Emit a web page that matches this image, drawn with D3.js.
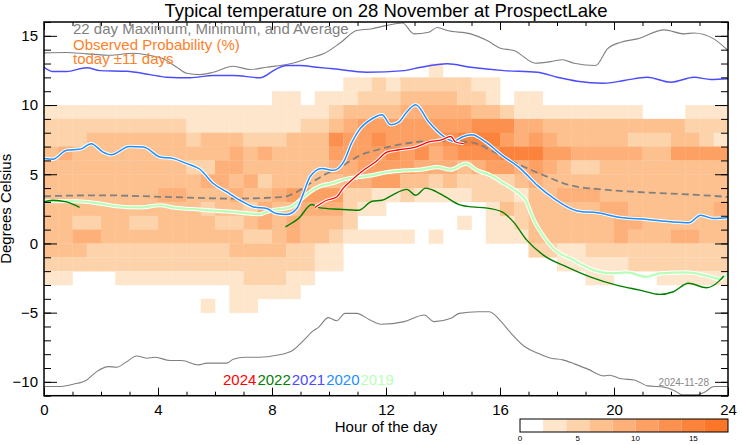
<!DOCTYPE html>
<html><head><meta charset="utf-8">
<script src="https://cdn.jsdelivr.net/npm/d3@7"></script>
<style>body{margin:0;background:#fff}svg{display:block}text{font-family:"Liberation Sans",Arial,Helvetica,sans-serif}</style>
</head><body><svg id="c" width="742" height="445"></svg>
<script>
// ---------- DATA ----------
const titleText = "Typical temperature on 28 November at ProspectLake";
const xTicks = [0, 4, 8, 12, 16, 20, 24];
const yTicks = [-10, -5, 0, 5, 10, 15];
// probability level per half-hour column (48), rows by bin lower edge (°C), level k => (2k..2k+2)%
const rowBins = [12, 11, 10, 9, 8, 7, 6, 5, 4, 3, 2, 1, 0, -1, -2, -3, -4, -5];
const probRows = [
  "00000000"+"00000000"+"00000000"+"00010000"+"00000000"+"00000000",
  "00000000"+"00000000"+"00000112"+"12222211"+"00000000"+"00000000",
  "00000000"+"00000000"+"11011122"+"23333221"+"01100000"+"00000000",
  "11111111"+"11111111"+"11112333"+"34444433"+"21111111"+"11000111",
  "22222222"+"22111111"+"11223455"+"55555566"+"64433333"+"33333222",
  "22233333"+"33233322"+"23336556"+"55556777"+"54543333"+"32223321",
  "34333333"+"33333434"+"33335555"+"65645666"+"77755444"+"44335555",
  "33333333"+"33224433"+"33334455"+"55444345"+"54543223"+"33333333",
  "33333333"+"33344342"+"33333445"+"53323222"+"23433333"+"33333333",
  "33333333"+"44333433"+"45555221"+"12111122"+"21334443"+"33333333",
  "33333333"+"33323324"+"33444211"+"00000001"+"32333334"+"43333334",
  "33223322"+"33332234"+"34333200"+"00000101"+"12333333"+"44333333",
  "33443333"+"33333322"+"34332111"+"11010001"+"11333333"+"43334433",
  "33322222"+"22222333"+"32211000"+"00000000"+"00221122"+"22222222",
  "22222222"+"22222222"+"22211000"+"00000000"+"00001111"+"12222222",
  "11000111"+"11111122"+"21100000"+"00000000"+"00000011"+"00011111",
  "00000000"+"00000111"+"11000000"+"00000000"+"00000000"+"00000000",
  "00000000"+"00010110"+"00000000"+"00000000"+"00000000"+"00000000"
];
const levelColors = ["#ffffff","#fee6cd","#fdd3ab","#fdc08f","#fdb079","#fca064","#fc914f","#fc833c","#fc7629"];
const colorbarTicks = [0, 5, 10, 15];

const maxLine = [[0,13.77],[0.79,13.8],[1.5,13.7],[2.3,13.6],[3.14,13.74],[3.72,13.58],[4.19,13.34],[4.66,12.73],[5.01,12.3],[5.47,12.2],[5.94,12.37],[6.64,12.8],[7.23,12.57],[7.81,12.73],[8.63,12.98],[9.33,13.41],[9.8,13.7],[10.4,14.5],[10.97,15.38],[11.47,15.5],[12.0,15.74],[12.58,15.93],[12.98,15.14],[13.5,15.26],[13.8,15.6],[14.15,15.38],[14.97,15.14],[15.55,14.66],[16.02,14.1],[16.49,13.94],[17.25,13.02],[17.78,13.14],[18.19,13.27],[18.6,13.02],[19.36,12.86],[19.77,14.06],[20.24,14.54],[20.82,14.78],[21.76,15.43],[22.46,15.14],[22.81,15.21],[23.5,14.78],[24,13.94]];
const minLine = [[0,-10.34],[0.5,-10.34],[1.03,-10.17],[1.5,-9.86],[1.85,-9.26],[2.26,-8.9],[2.55,-8.94],[2.9,-8.54],[3.25,-8.13],[3.6,-8.29],[3.9,-8.22],[4.42,-8.46],[4.83,-8.46],[5.42,-8.77],[5.71,-8.65],[6.41,-8.65],[6.64,-8.36],[7.05,-8.22],[7.58,-8.22],[8.16,-8.08],[8.69,-7.77],[9.1,-7.02],[9.45,-6.3],[9.63,-6.06],[9.98,-5.36],[10.27,-5.58],[10.56,-5.05],[10.97,-5.05],[11.44,-5.53],[11.82,-5.84],[12.64,-5.65],[13.34,-5.17],[13.69,-5.65],[14.28,-5.41],[14.57,-5.05],[15.22,-4.93],[15.63,-4.93],[16.04,-5.65],[16.39,-6.49],[16.86,-7.45],[17.33,-7.93],[17.79,-8.29],[18.2,-8.41],[18.61,-8.7],[19.08,-9.08],[19.66,-9.57],[19.84,-9.52],[20.25,-9.78],[20.71,-9.86],[21.18,-10.29],[21.76,-10.38],[22.11,-10.62],[22.4,-10.94],[22.87,-10.94],[23.16,-10.77],[23.51,-10.34],[24,-10.34]];
const avgLine = [[0,3.41],[1.97,3.48],[4.3,3.36],[6.64,3.24],[8.4,3.36],[8.87,3.72],[9.33,4.33],[9.92,5.05],[10.5,5.65],[11.09,6.37],[11.5,6.65],[12.65,7.21],[13.8,7.42],[14.97,7.31],[15.9,6.49],[16.72,5.65],[17.54,4.92],[18.47,4.2],[19.64,3.89],[20.81,3.72],[21.98,3.6],[23.15,3.48],[24,3.36]];

const years = ["2024","2022","2021","2020","2019"];
const yearColors = ["#ff0000","#008000","#4b4bff","#1e8fff","#b8ffb8"];
const y2021 = [[0,12.73],[0.31,12.42],[0.79,12.42],[1.5,12.69],[1.97,12.49],[2.9,12.44],[3.72,12.2],[4.3,12.01],[5.12,11.97],[5.94,12.13],[6.64,12.13],[7.58,11.97],[8.16,12.62],[8.52,12.86],[8.98,12.86],[9.57,12.73],[10.15,12.62],[11.32,12.37],[12.64,12.49],[13.22,12.73],[14.15,12.98],[14.97,12.73],[16.14,12.49],[17.31,12.37],[18.01,12.01],[18.71,11.72],[19.64,11.58],[20.35,11.77],[21.17,12.01],[21.99,11.65],[22.81,12.01],[23.4,11.85],[24,11.9]];
const y2020 = [[0,6.13],[0.31,6.08],[0.79,6.73],[1.25,6.8],[1.66,7.21],[2.07,6.6],[2.36,6.41],[3.0,7.01],[3.49,6.97],[4.07,6.25],[4.54,6.13],[5.01,5.77],[5.47,5.36],[5.94,4.33],[6.41,3.72],[6.88,3.12],[7.35,2.64],[7.81,2.52],[8.16,2.16],[8.52,2.09],[8.87,2.52],[9.1,3.6],[9.33,4.8],[9.75,5.41],[10.15,5.28],[10.51,5.88],[10.81,7.33],[11.05,8.17],[11.51,9.01],[11.86,9.3],[12.16,8.58],[12.45,8.77],[12.68,9.37],[13.04,10.02],[13.5,8.77],[13.97,7.81],[14.38,7.38],[14.67,7.69],[15.02,7.86],[15.49,7.33],[16.07,6.37],[16.72,5.41],[17.31,4.2],[17.9,3.24],[18.71,2.35],[19.42,2.21],[20.24,1.87],[21.17,1.73],[21.99,1.56],[22.63,1.49],[23.04,2.04],[23.5,1.8],[24,1.87]];
const y2019 = [[0,3.05],[1.14,3.05],[1.97,2.88],[2.55,2.69],[3.37,2.6],[4.07,2.76],[4.54,2.6],[5.47,2.45],[6.64,2.28],[7.58,2.11],[7.81,2.28],[8.16,2.45],[8.63,2.6],[8.98,3.12],[9.33,3.72],[9.68,4.13],[10.15,4.37],[10.62,4.68],[11.09,4.8],[11.47,4.92],[12.06,5.16],[12.64,5.28],[13.22,5.33],[13.8,5.52],[14.27,5.33],[14.8,5.77],[15.2,5.28],[15.67,4.92],[16.14,4.33],[16.6,3.72],[16.9,3.12],[17.19,1.68],[17.54,0.48],[17.87,-0.36],[18.57,-1.2],[19.39,-2.0],[19.97,-2.16],[20.44,-2.09],[21.14,-2.41],[21.61,-2.16],[22.55,-2.09],[23.25,-2.33],[23.72,-2.57],[24,-2.16]];
const y2022a = [[0,3.0],[0.31,3.12],[0.79,3.0],[1.25,2.6]];
const y2022b = [[8.47,1.2],[8.93,1.8],[9.4,2.81],[9.69,2.57],[10.34,2.47],[11.04,2.4],[11.51,3.05],[11.86,3.12],[12.21,3.48],[12.73,3.91],[13.04,3.48],[13.39,4.0],[13.74,3.77],[14.09,3.36],[14.56,2.81],[15.02,2.64],[15.49,2.57],[16.07,2.28],[16.47,1.56],[16.94,0.24],[17.52,-0.84],[18.34,-1.69],[19.16,-2.41],[20.09,-3.01],[20.91,-3.37],[21.61,-3.68],[22.08,-3.49],[22.61,-2.88],[23.25,-3.2],[23.72,-2.65],[23.85,-2.35]];
const y2024 = [[9.51,2.6],[9.92,3.12],[10.27,3.36],[10.5,4.0],[10.81,4.6],[11.22,5.3],[11.63,5.88],[12.03,6.6],[12.45,6.77],[13.04,6.96],[13.5,7.33],[13.97,7.5],[14.27,7.74],[14.44,7.33],[14.73,7.21]];

// ---------- DRAW ----------
const svg = d3.select("#c");
svg.append("rect").attr("width",742).attr("height",445).attr("fill","#fff");
const L=44, R=728, T=22, B=395.7;
const x = d3.scaleLinear().domain([0,24]).range([L,R]);
const y = d3.scaleLinear().domain([-11,16]).range([B,T]);
const color = d3.scaleOrdinal().domain(d3.range(9)).range(levelColors);

// heatmap
const cells = [];
probRows.forEach((s,ri)=>{ for(let c=0;c<s.length;c++){ const k=+s[c]; if(k>0) cells.push({h:c*0.5, t:rowBins[ri], k}); }});
svg.append("g").selectAll("rect").data(cells).join("rect")
  .attr("x",d=>x(d.h)).attr("y",d=>y(d.t+1))
  .attr("width",d=>x(d.h+0.5)-x(d.h)+0.3).attr("height",d=>y(d.t)-y(d.t+1)+0.3)
  .attr("fill",d=>color(d.k));

const line = d3.line().x(d=>x(d[0])).y(d=>y(d[1])).curve(d3.curveMonotoneX);
const plot = svg.append("g");
plot.append("path").attr("d",line(maxLine)).attr("fill","none").attr("stroke","#808080").attr("stroke-width",1.1);
plot.append("path").attr("d",line(minLine)).attr("fill","none").attr("stroke","#808080").attr("stroke-width",1.1);
plot.append("path").attr("d",line(avgLine)).attr("fill","none").attr("stroke","#808080").attr("stroke-width",1.8).attr("stroke-dasharray","7,4");

function yearLine(data,col,w,halo){
  if(halo) plot.append("path").attr("d",line(data)).attr("fill","none").attr("stroke","#fff").attr("stroke-width",w+2).attr("stroke-linejoin","round");
  plot.append("path").attr("d",line(data)).attr("fill","none").attr("stroke",col).attr("stroke-width",w).attr("stroke-linejoin","round");
}
yearLine(y2021, yearColors[2], 1.4, false);
yearLine(y2019, yearColors[4], 2.2, true);
yearLine(y2022a, yearColors[1], 1.4, false);
yearLine(y2022b, yearColors[1], 1.4, false);
yearLine(y2020, yearColors[3], 1.5, true);
yearLine(y2024, yearColors[0], 1.3, true);

// axes
const fs = "15px";
function styleAxis(g){ g.select(".domain").remove(); g.selectAll("line").attr("stroke","#000").attr("stroke-width",1); g.selectAll("text").style("font-size",fs).attr("fill","#000"); }
svg.append("g").attr("transform",`translate(${L},0)`).call(d3.axisLeft(y).tickValues(yTicks).tickSize(-13).tickPadding(6)).call(styleAxis);
svg.append("g").attr("transform",`translate(${L},0)`).call(d3.axisLeft(y).tickValues(d3.range(-11,17)).tickSize(-7).tickFormat("")).call(styleAxis);
svg.append("g").attr("transform",`translate(${R},0)`).call(d3.axisRight(y).tickValues(yTicks).tickSize(-13).tickFormat("")).call(styleAxis);
svg.append("g").attr("transform",`translate(${R},0)`).call(d3.axisRight(y).tickValues(d3.range(-11,17)).tickSize(-7).tickFormat("")).call(styleAxis);
svg.append("g").attr("transform",`translate(0,${B})`).call(d3.axisBottom(x).tickValues(xTicks).tickSize(-8).tickPadding(9)).call(styleAxis);
svg.append("g").attr("transform",`translate(0,${B})`).call(d3.axisBottom(x).tickValues(d3.range(0,25)).tickSize(-4).tickFormat("")).call(styleAxis);
svg.append("g").attr("transform",`translate(0,${T})`).call(d3.axisTop(x).tickValues(xTicks).tickSize(-8).tickFormat("")).call(styleAxis);
svg.append("g").attr("transform",`translate(0,${T})`).call(d3.axisTop(x).tickValues(d3.range(0,25)).tickSize(-4).tickFormat("")).call(styleAxis);
svg.append("rect").attr("x",L).attr("y",T).attr("width",R-L).attr("height",B-T).attr("fill","none").attr("stroke","#000").attr("stroke-width",1.5);

// texts
svg.append("text").attr("x",(L+R)/2).attr("y",17).attr("text-anchor","middle").style("font-size","18.5px").text(titleText);
svg.append("text").attr("x",73).attr("y",34).style("font-size","15px").attr("fill","#808080").text("22 day Maximum, Minimum, and Average");
svg.append("text").attr("x",73).attr("y",50).style("font-size","15px").attr("fill","#ff7f2a").text("Observed Probability (%)");
svg.append("text").attr("x",73).attr("y",63.5).style("font-size","15px").attr("fill","#ff7f2a").text("today \u00b111 days");
svg.append("text").attr("x",(L+R)/2).attr("y",432).attr("text-anchor","middle").style("font-size","15px").text("Hour of the day");
svg.append("text").attr("transform",`translate(11,${(T+B)/2}) rotate(-90)`).attr("text-anchor","middle").style("font-size","15px").text("Degrees Celsius");
svg.append("text").attr("x",709).attr("y",386).attr("text-anchor","end").style("font-size","10px").attr("fill","#888").text("2024-11-28");

// year legend
let lx = 223;
years.forEach((yr,i)=>{
  const t = svg.append("text").attr("x",lx).attr("y",385).style("font-size","15px").attr("fill",yearColors[i]).text(yr);
  lx += t.node().getComputedTextLength() + 1;
});

// colorbar
const cbx = d3.scaleLinear().domain([0,18]).range([520,728]);
svg.append("g").selectAll("rect").data(d3.range(9)).join("rect")
  .attr("x",d=>cbx(d*2)).attr("y",419).attr("width",d=>cbx(d*2+2)-cbx(d*2)).attr("height",13)
  .attr("fill",d=>levelColors[d]);
svg.append("rect").attr("x",520).attr("y",419).attr("width",208).attr("height",13).attr("fill","none").attr("stroke","#000").attr("stroke-width",1);
svg.append("g").selectAll("text").data(colorbarTicks).join("text")
  .attr("x",d=>cbx(d)).attr("y",441).attr("text-anchor","middle").style("font-size","8px").text(d=>d);
</script></body></html>
